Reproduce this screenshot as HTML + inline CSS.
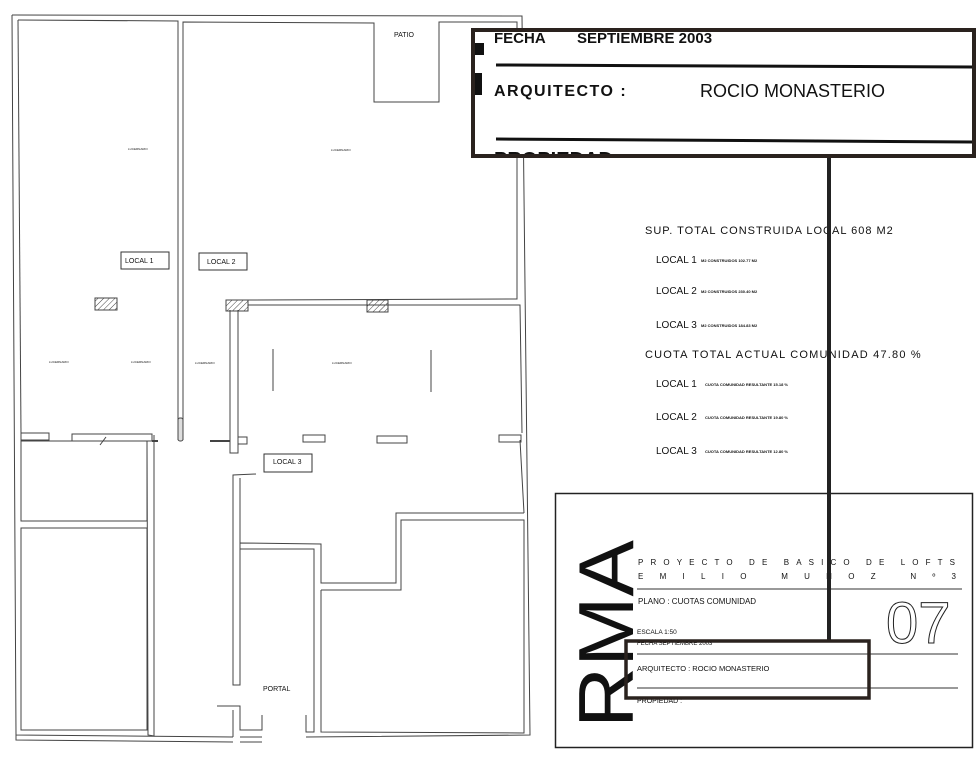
<!DOCTYPE html>
<html><head><meta charset="utf-8"><style>
html,body{margin:0;padding:0;background:#fff;}
svg{display:block;}
text{font-family:"Liberation Sans",sans-serif;fill:#111;}
</style></head><body>
<svg width="980" height="760" viewBox="0 0 980 760" xmlns="http://www.w3.org/2000/svg">
<defs>
<pattern id="h" width="4" height="4" patternUnits="userSpaceOnUse" patternTransform="rotate(45)"><line x1="0" y1="0" x2="0" y2="4" stroke="#444" stroke-width="1"/></pattern>
<clipPath id="cb"><rect x="474" y="31" width="499" height="124"/></clipPath>
</defs>
<g fill="none" stroke="#444" stroke-width="1">
<path d="M12,15 L522,16 L530,735 L306,737"/>
<path d="M12,15 L16,735 L233,737"/>
<path d="M18,20 L178,21 L178,440 M183,440 L183,22 L374,23 L374,102 L439,102 L439,22 L517,22 L517,299 L248,300"/>
<path d="M18,20 L21,434"/>
<path d="M16,735 L16,740 L233,742 M262,742 L240,742"/>
<rect x="178" y="418" width="5" height="23" rx="2" fill="#ddd"/>
<path d="M248,305 L520,305 L522,433 M520,440 L524,513"/>
<path d="M230,310 L230,453 L238,453 L238,310"/>
<rect x="95" y="298" width="22" height="12" fill="url(#h)"/>
<rect x="226" y="300" width="22" height="11" fill="url(#h)"/>
<rect x="367" y="300" width="21" height="12" fill="url(#h)"/>
<rect x="21" y="433" width="28" height="7"/>
<rect x="72" y="434" width="80" height="7"/>
<line x1="152" y1="441" x2="158" y2="441" stroke-width="2"/>
<line x1="100" y1="445" x2="106" y2="437"/>
<rect x="303" y="435" width="22" height="7"/>
<rect x="377" y="436" width="30" height="7"/>
<rect x="499" y="435" width="22" height="7"/>
<rect x="238" y="437" width="9" height="7"/>
<line x1="210" y1="441" x2="230" y2="441" stroke-width="2"/>
<rect x="21" y="441" width="126" height="80"/>
<rect x="21" y="528" width="126" height="202"/>
<path d="M147,441 L148,735 L154,736 L154,435"/>
<path d="M256,474 L233,475 L233,685 L240,685 L240,543 L321,544 L321,583 L396,583 L396,513 L524,513"/>
<path d="M240,478 L240,543 M240,549 L314,549 L314,732 L306,732 L306,715"/>
<path d="M321,590 L401,590 L401,520 L524,520 L524,733 L321,732 L321,590"/>
<path d="M217,706 L240,706 L240,730 L262,730 L262,715 M233,710 L233,737 M240,737 L262,737"/>
<line x1="273" y1="349" x2="273" y2="391"/>
<line x1="431" y1="350" x2="431" y2="392"/>
</g>
<g stroke="#333" fill="#fff" stroke-width="1">
<rect x="121" y="252" width="48" height="17"/>
<rect x="199" y="253" width="48" height="17"/>
<rect x="264" y="454" width="48" height="18"/>
</g>
<g font-size="7">
<text x="125" y="263">LOCAL 1</text>
<text x="207" y="264">LOCAL 2</text>
<text x="273" y="464">LOCAL 3</text>
<text x="394" y="37">PATIO</text>
<text x="263" y="691">PORTAL</text>
</g>
<g font-size="3">
<text x="128" y="150">LUCERNARIO</text><text x="331" y="151">LUCERNARIO</text>
<text x="49" y="363">LUCERNARIO</text><text x="131" y="363">LUCERNARIO</text>
<text x="195" y="364">LUCERNARIO</text><text x="332" y="364">LUCERNARIO</text>
</g>
<g font-size="11">
<text x="645" y="234" letter-spacing="1">SUP. TOTAL CONSTRUIDA LOCAL 608 M2</text>
<text x="645" y="358" letter-spacing="1.2">CUOTA TOTAL ACTUAL COMUNIDAD 47.80 %</text>
</g>
<g font-size="10">
<text x="656" y="263">LOCAL 1</text><text x="656" y="294">LOCAL 2</text><text x="656" y="328">LOCAL 3</text>
<text x="656" y="387">LOCAL 1</text><text x="656" y="420">LOCAL 2</text><text x="656" y="454">LOCAL 3</text>
</g>
<g font-size="4" font-weight="bold">
<text x="701" y="262">M2 CONSTRUIDOS 102.77 M2</text>
<text x="701" y="293">M2 CONSTRUIDOS 230.40 M2</text>
<text x="701" y="327">M2 CONSTRUIDOS 184.83 M2</text>
<text x="705" y="386">CUOTA COMUNIDAD RESULTANTE 15.18 %</text>
<text x="705" y="419">CUOTA COMUNIDAD RESULTANTE 19.80 %</text>
<text x="705" y="453">CUOTA COMUNIDAD RESULTANTE 12.80 %</text>
</g>
<rect x="555.5" y="493.5" width="417" height="254" fill="none" stroke="#222" stroke-width="1.5"/>
<text transform="translate(633,728) rotate(-90)" font-size="78" textLength="188" lengthAdjust="spacingAndGlyphs">RMA</text>
<text x="638" y="565" font-size="8" textLength="318" letter-spacing="1">PROYECTO DE BASICO DE LOFTS</text>
<text x="638" y="579" font-size="8" textLength="318">EMILIO       MUÑOZ    Nº3</text>
<line x1="637" y1="589" x2="962" y2="589" stroke="#333" stroke-width="1"/>
<text x="638" y="604" font-size="8">PLANO    : CUOTAS COMUNIDAD</text>
<text x="886" y="643" font-size="58" stroke="#222" stroke-width="1" style="fill:none">07</text>
<text x="637" y="634" font-size="6.5">ESCALA 1:50</text>
<text x="637" y="645" font-size="6">FECHA    SEPTIEMBRE 2003</text>
<line x1="637" y1="654" x2="958" y2="654" stroke="#333"/>
<text x="637" y="671" font-size="7.5">ARQUITECTO  :   ROCIO MONASTERIO</text>
<line x1="637" y1="688" x2="958" y2="688" stroke="#333"/>
<text x="637" y="703" font-size="7" fill="#888">PROPIEDAD :</text>
<line x1="829" y1="157" x2="829" y2="641" stroke="#222" stroke-width="4"/>
<rect x="626" y="641" width="243" height="57" fill="none" stroke="#2a221e" stroke-width="3.5"/>
<rect x="474" y="31" width="499" height="124" fill="#fff"/>
<g clip-path="url(#cb)">
<text x="494" y="43" font-size="15" font-weight="bold">FECHA</text>
<text x="577" y="43" font-size="15" font-weight="bold">SEPTIEMBRE 2003</text>
<line x1="496" y1="65" x2="973" y2="67" stroke="#111" stroke-width="3"/>
<text x="494" y="96" font-size="16" font-weight="bold" letter-spacing="1.5">ARQUITECTO  :</text>
<text x="700" y="97" font-size="18">ROCIO MONASTERIO</text>
<line x1="496" y1="139" x2="973" y2="142" stroke="#111" stroke-width="3"/>
<text x="494" y="166" font-size="20" font-weight="bold">PROPIEDAD</text>
<rect x="474" y="43" width="10" height="12" fill="#111"/>
<rect x="474" y="73" width="8" height="22" fill="#111"/>
</g>
<rect x="473" y="30" width="501" height="126" fill="none" stroke="#2a221e" stroke-width="4"/>
</svg>
</body></html>
